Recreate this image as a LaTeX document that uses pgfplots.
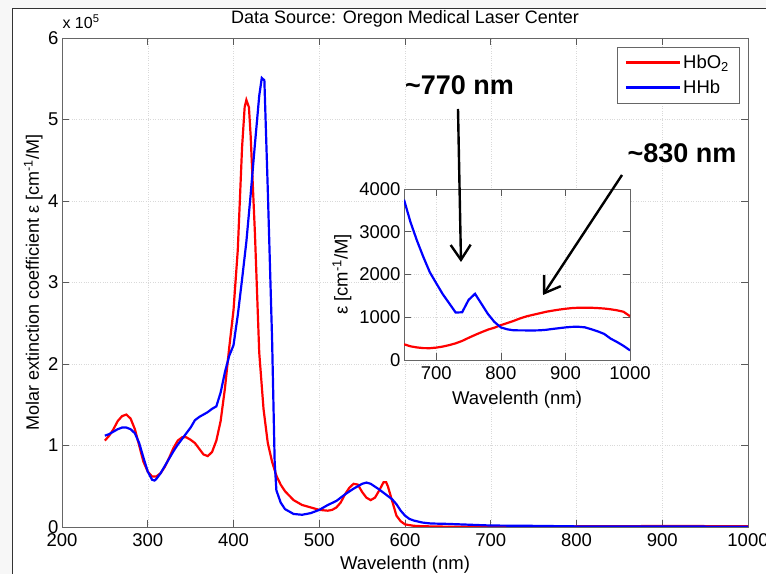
\documentclass[border=0pt]{standalone}
\usepackage{fontspec}
\setmainfont{Liberation Sans}
\usepackage{pgfplots}
\usepackage{pgfplotstable}
\pgfplotsset{compat=1.18}
\usetikzlibrary{arrows.meta}

\newcommand\fs{\fontsize{18.5bp}{21bp}\selectfont}
\newcommand\fb{\fontsize{27bp}{30bp}\selectfont\bfseries}

% main spectrum, values in units of 1e5 cm^-1/M
\pgfplotstableread{
lam v
250 1.06
255 1.12
260 1.20
265 1.30
270 1.36
275 1.38
280 1.33
285 1.20
290 1.00
295 0.80
300 0.68
305 0.62
310 0.62
315 0.66
320 0.74
325 0.85
330 0.97
335 1.06
340 1.10
345 1.10
350 1.07
355 1.03
360 0.96
365 0.89
370 0.87
375 0.92
380 1.06
385 1.30
390 1.70
395 2.20
400 2.66
405 3.40
410 4.66
413 5.15
415 5.24
418 5.15
420 4.80
425 3.60
430 2.14
435 1.45
440 1.03
445 0.80
450 0.63
455 0.52
460 0.44
470 0.33
480 0.27
490 0.24
500 0.21
510 0.20
515 0.21
520 0.24
525 0.30
530 0.40
535 0.48
540 0.53
545 0.52
550 0.43
555 0.36
560 0.33
565 0.36
570 0.45
575 0.55
578 0.55
580 0.50
585 0.32
590 0.14
595 0.07
600 0.032
610 0.015
620 0.0094
650 0.0037
700 0.0029
800 0.008
900 0.012
1000 0.010
}\hbomain

\pgfplotstableread{
lam v
250 1.12
255 1.14
260 1.17
265 1.20
270 1.22
275 1.22
280 1.20
285 1.15
290 1.03
295 0.85
300 0.68
305 0.58
308 0.57
310 0.59
315 0.66
320 0.75
325 0.84
330 0.93
335 1.01
340 1.08
345 1.15
350 1.22
355 1.31
360 1.35
365 1.38
370 1.41
375 1.45
380 1.48
385 1.65
390 1.90
395 2.10
400 2.23
405 2.60
410 3.04
415 3.50
420 4.08
425 4.70
430 5.29
433 5.51
436 5.48
440 4.13
445 2.30
448 0.80
450 0.45
455 0.30
460 0.22
470 0.16
480 0.15
490 0.17
500 0.21
510 0.27
520 0.32
530 0.40
540 0.47
550 0.53
555 0.545
560 0.53
570 0.46
580 0.38
585 0.34
590 0.28
595 0.20
600 0.14
605 0.10
610 0.08
620 0.055
630 0.043
650 0.038
700 0.018
750 0.014
800 0.0076
900 0.0076
1000 0.0022
}\hhbmain

% near infrared detail, cm^-1/M
\pgfplotstableread{
lam v
650 368
660 320
670 294
680 278
690 276
700 290
710 314
720 348
730 390
740 446
750 518
760 586
770 650
780 710
790 756
800 816
810 864
820 916
830 974
840 1022
850 1058
860 1092
870 1128
880 1154
890 1178
900 1198
910 1214
920 1222
930 1224
940 1222
950 1214
960 1204
970 1186
980 1162
990 1128
1000 1024
}\hbonir

\pgfplotstableread{
lam v
650 3750
660 3227
670 2795
680 2408
690 2052
700 1794
710 1540
720 1326
730 1110
740 1116
750 1405
760 1549
770 1312
780 1075
790 890
800 762
810 717
820 694
830 693
840 692
850 691
860 694
870 706
880 726
890 744
900 762
910 775
920 777
930 764
940 720
950 670
960 610
970 500
980 420
990 330
1000 225
}\hhbnir

\pgfplotsset{
  mat/.style={
    scale only axis,
    axis line style={black!60, line width=0.7bp},
    tick style={black!65, line width=0.6bp},
    major tick length=7bp,
    grid=major,
    major grid style={dotted, gray!30, line width=0.5bp},
    tick label style={font=\fs},
    label style={font=\fs},
    xticklabel style={yshift=-3bp},
    /pgf/number format/assume math mode=true,
    /pgf/number format/1000 sep={},
    scaled ticks=false,
  }
}

\begin{document}
\begin{tikzpicture}[x=1bp,y=1bp]
\path[use as bounding box, fill=gray!6] (0,0) rectangle (766,574);
\fill[white] (12,0) rectangle (766,566);
\draw[black!80, line width=0.8bp] (12,0) -- (12,566) -- (766,566);

\begin{axis}[mat,
  at={(62bp,47bp)}, anchor=south west,
  width=686bp, height=489bp,
  xmin=200, xmax=1000, ymin=0, ymax=6,
  xtick={200,300,...,1000}, ytick={0,1,...,6},
  xlabel={Wavelenth (nm)},
  ylabel={Molar extinction coefficient \symbol{"03B5} [cm\textsuperscript{-1}/M]},
  xlabel style={at={(axis description cs:0.5,-0.078)}, anchor=center},
  ylabel style={font=\fontsize{18bp}{21bp}\selectfont, at={(axis description cs:-0.042,0.5)}, anchor=center},
  title={Data Source: Oregon Medical Laser Center},
  title style={font=\fontsize{18bp}{20bp}\selectfont, at={(axis description cs:0.5,1.026)}, anchor=center},
  legend style={at={(axis description cs:0.987,0.982)}, anchor=north east,
    draw=black!60, fill=white, font=\fs, inner xsep=8bp, inner ysep=3bp,
    nodes={minimum height=25bp}, cells={anchor=west}},
  legend image code/.code={\draw[#1, line width=2.4bp] (0bp,0bp) -- (54bp,0bp);},
]
\addplot[red, line width=2.2bp] table[x=lam, y=v] {\hbomain};
\addlegendentry{HbO\textsubscript{2}}
\addplot[blue, line width=2.2bp] table[x=lam, y=v] {\hhbmain};
\addlegendentry{HHb}
\end{axis}

\node[font=\fontsize{16bp}{18bp}\selectfont] at (81,552) {x 10\textsuperscript{5}};

\begin{axis}[mat,
  at={(404bp,214bp)}, anchor=south west,
  width=226bp, height=171bp,
  axis background/.style={fill=white},
  xmin=650, xmax=1000, ymin=0, ymax=4000,
  xtick={700,800,900,1000}, ytick={0,1000,...,4000},
  xlabel={Wavelenth (nm)},
  ylabel={\symbol{"03B5} [cm\textsuperscript{-1}/M]},
  xlabel style={at={(axis description cs:0.5,-0.235)}, anchor=center},
  ylabel style={at={(axis description cs:-0.274,0.5)}, anchor=center},
]
\addplot[red, line width=2.2bp] table[x=lam, y=v] {\hbonir};
\addplot[blue, line width=2.2bp] table[x=lam, y=v] {\hhbnir};
\end{axis}

\draw[line width=2.4bp, -{Straight Barb[length=15bp,width=20bp,line width=2.4bp]}] (458,465) -- (461,312);
\draw[line width=2.4bp, -{Straight Barb[length=15bp,width=20bp,line width=2.4bp]}] (622,399) -- (543,279);
\node[font=\fb] at (459.5,489) {\textasciitilde770 nm};
\node[font=\fb] at (682,421) {\textasciitilde830 nm};
\end{tikzpicture}
\end{document}
